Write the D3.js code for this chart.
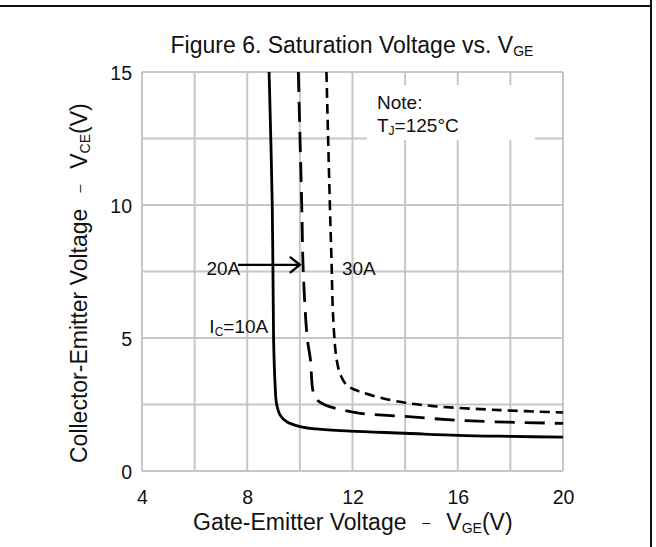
<!DOCTYPE html>
<html><head><meta charset="utf-8">
<script src="https://cdn.jsdelivr.net/npm/d3@7"></script>
<style>
html,body{margin:0;padding:0;background:#fff;}
svg{display:block;font-family:"Liberation Sans",Arial,sans-serif;}
</style></head>
<body><svg id="c" width="656" height="547"></svg>
<script>
// ---- data ----
const xTickLabels = [4, 8, 12, 16, 20];
const xGrid = [4, 6, 8, 10, 12, 14, 16, 18, 20];
const yTickLabels = [0, 5, 10, 15];
const yGrid = [0, 2.5, 5, 7.5, 10, 12.5, 15];
// VGE (V), VCE (V)
const ic10_vge = [8.83, 8.95, 9.0, 9.06, 9.11, 9.25, 9.5, 10.0, 10.63, 11.9, 14, 16, 18, 20];
const ic10_vce = [15, 10, 5, 3.2, 2.55, 2.1, 1.85, 1.67, 1.58, 1.5, 1.42, 1.34, 1.3, 1.27];
const ic20_vge = [9.94, 10.07, 10.13, 10.28, 10.4, 10.5, 10.64, 10.96, 11.65, 12.3, 14, 16.3, 20];
const ic20_vce = [15, 10, 7.5, 5, 4.2, 3.0, 2.68, 2.48, 2.29, 2.17, 2.05, 1.89, 1.79];
const ic30_vge = [11.01, 11.14, 11.2, 11.27, 11.4, 11.55, 11.78, 12.29, 13.8, 15.07, 17.6, 20];
const ic30_vce = [15, 10, 8, 5.68, 4.17, 3.6, 3.23, 2.98, 2.6, 2.44, 2.29, 2.2];
const seriesNames = ["IC=10A", "20A", "30A"];

// ---- layout ----
const svg = d3.select("#c");
const x = d3.scaleLinear().domain([4, 20]).range([142, 563]);
const y = d3.scaleLinear().domain([0, 15]).range([471, 72]);
const gridColor = "#c6c6c6";

// frame
svg.append("line").attr("x1", 0).attr("x2", 652).attr("y1", 6).attr("y2", 6)
  .attr("stroke", "#111").attr("stroke-width", 2);
svg.append("line").attr("x1", 651).attr("x2", 651).attr("y1", 0).attr("y2", 547)
  .attr("stroke", "#111").attr("stroke-width", 2);

// grid
const g = svg.append("g");
g.selectAll(".vg").data(xGrid).join("line")
  .attr("x1", d => x(d)).attr("x2", d => x(d)).attr("y1", y(0)).attr("y2", y(15))
  .attr("stroke", gridColor).attr("stroke-width", 2);
g.selectAll(".hg").data(yGrid).join("line")
  .attr("x1", x(4)).attr("x2", x(20)).attr("y1", d => y(d)).attr("y2", d => y(d))
  .attr("stroke", gridColor).attr("stroke-width", 2);

// note box (white patch over grid)
svg.append("rect").attr("x", 367).attr("y", 85).attr("width", 168).attr("height", 55).attr("fill", "#fff");
const note = svg.append("text").attr("font-size", 19).attr("fill", "#111");
note.append("tspan").attr("x", 377).attr("y", 109).text("Note:");
const n2 = svg.append("text").attr("font-size", 19).attr("fill", "#111").attr("x", 377).attr("y", 132);
n2.append("tspan").text("T");
n2.append("tspan").attr("font-size", 12).attr("dy", 3).text("J");
n2.append("tspan").attr("dy", -3).text("=125°C");

// axes
const xAxis = d3.axisBottom(x).tickValues(xTickLabels).tickSize(0).tickPadding(0).tickFormat(d3.format("d"));
const xa = svg.append("g").attr("transform", `translate(0,${y(0)})`).call(xAxis);
xa.select(".domain").remove();
xa.selectAll("text").attr("font-size", 19.5).attr("fill", "#111").attr("dy", null).attr("y", 33)
  .attr("font-family", "'Liberation Sans',Arial,sans-serif");
const yAxis = d3.axisLeft(y).tickValues(yTickLabels).tickSize(0).tickPadding(0).tickFormat(d3.format("d"));
const ya = svg.append("g").attr("transform", `translate(${x(4) - 10},0)`).call(yAxis);
ya.select(".domain").remove();
ya.selectAll("text").attr("font-size", 19.5).attr("fill", "#111").attr("dy", "0.36em")
  .attr("font-family", "'Liberation Sans',Arial,sans-serif");

// curves
const line = d3.line().x(d => x(d[0])).y(d => y(d[1])).curve(d3.curveCatmullRom.alpha(0.5));
const zip = (a, b) => a.map((v, i) => [v, b[i]]);
const series = [
  {name: seriesNames[0], pts: zip(ic10_vge, ic10_vce), dash: null, w: 2.8},
  {name: seriesNames[1], pts: zip(ic20_vge, ic20_vce), dash: "20,10", w: 2.8},
  {name: seriesNames[2], pts: zip(ic30_vge, ic30_vce), dash: "10,6", w: 2.6}
];
svg.append("g").selectAll("path").data(series).join("path")
  .attr("d", d => line(d.pts)).attr("fill", "none").attr("stroke", "#000")
  .attr("stroke-width", d => d.w).attr("stroke-dasharray", d => d.dash);

// annotations
const ann = svg.append("g").attr("font-size", 19).attr("fill", "#111");
ann.append("text").attr("x", x(6.45)).attr("y", y(7.38)).text("20A");
ann.append("text").attr("x", x(11.6)).attr("y", y(7.38)).text("30A");
const ic = ann.append("text").attr("x", x(6.56)).attr("y", y(5.2));
ic.append("tspan").text("I");
ic.append("tspan").attr("font-size", 12).attr("dy", 3).text("C");
ic.append("tspan").attr("dy", -3).text("=10A");
// arrow
const ay = y(7.75);
svg.append("line").attr("x1", x(7.65)).attr("x2", x(9.98)).attr("y1", ay).attr("y2", ay)
  .attr("stroke", "#000").attr("stroke-width", 2.2);
svg.append("path")
  .attr("d", `M${x(10) - 10},${ay - 8} L${x(10)},${ay} L${x(10) - 10},${ay + 8}`)
  .attr("fill", "none").attr("stroke", "#000").attr("stroke-width", 2.4);

// title
const t = svg.append("text").attr("x", 352).attr("y", 53).attr("text-anchor", "middle")
  .attr("font-size", 23).attr("fill", "#111");
t.append("tspan").text("Figure 6. Saturation Voltage vs. V");
t.append("tspan").attr("font-size", 14).attr("dy", 3).text("GE");

// x title
const xt = svg.append("text").attr("x", 193).attr("y", 530).attr("font-size", 23).attr("fill", "#111");
xt.append("tspan").text("Gate-Emitter Voltage");
xt.append("tspan").attr("dx", 16).attr("font-size", 14).attr("dy", -3).text("–");
xt.append("tspan").attr("dx", 16).attr("dy", 3).text("V");
xt.append("tspan").attr("font-size", 14).attr("dy", 3).text("GE");
xt.append("tspan").attr("dy", -3).text("(V)");

// y title
const ytl = svg.append("text").attr("transform", "translate(87,463) rotate(-90)")
  .attr("font-size", 23).attr("fill", "#111");
ytl.append("tspan").text("Collector-Emitter Voltage");
ytl.append("tspan").attr("dx", 16).attr("font-size", 14).attr("dy", -3).text("–");
ytl.append("tspan").attr("dx", 16).attr("dy", 3).text("V");
ytl.append("tspan").attr("font-size", 14).attr("dy", 3).text("CE");
ytl.append("tspan").attr("dy", -3).text("(V)");
</script></body></html>
